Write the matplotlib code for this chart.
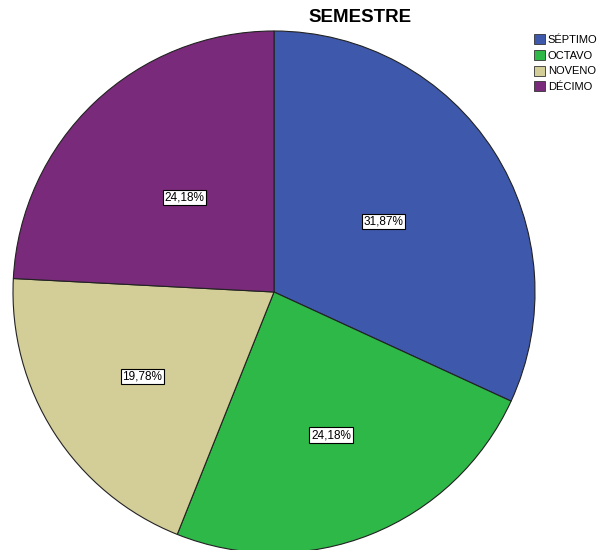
import matplotlib
matplotlib.use("Agg")
import numpy as np
import matplotlib.pyplot as plt
from matplotlib.patches import Patch

categories = ["SÉPTIMO", "OCTAVO", "NOVENO", "DÉCIMO"]
percentages = [31.87, 24.18, 19.78, 24.18]
colors = ["#3E58AC", "#2EB848", "#D3CE97", "#7A2A7A"]
label_dist = [0.5, 0.59, 0.6, 0.5]  # label distance from centre, fraction of radius

W, H = 603, 550
CX, CY, R = 274, H - 292, 261
FONT = "Liberation Sans"

fig = plt.figure(figsize=(W / 100, H / 100), dpi=100)
ax = fig.add_axes([0, 0, 1, 1])

wedges, _ = ax.pie(
    percentages,
    colors=colors,
    startangle=90,
    counterclock=False,
    center=(CX, CY),
    radius=R,
    wedgeprops=dict(edgecolor="#222222", linewidth=0.8),
    frame=True,
)
ax.set_xlim(0, W)
ax.set_ylim(0, H)
ax.set_aspect("equal")
ax.axis("off")

# percentage labels in boxes
for w, p, d in zip(wedges, percentages, label_dist):
    ang = np.deg2rad((w.theta1 + w.theta2) / 2)
    x = CX + d * R * np.cos(ang)
    y = CY + d * R * np.sin(ang)
    ax.text(x, y, f"{p:.2f}%".replace(".", ","), ha="center", va="center",
            fontsize=8.5, family=FONT,
            bbox=dict(facecolor="white", edgecolor="black", linewidth=0.8, pad=1.2))

fig.text(360 / W, 1 - 17 / H, "SEMESTRE", ha="center", va="center",
         fontsize=13.5, fontweight="bold", family=FONT)

handles = [Patch(facecolor=c, edgecolor="#333333", linewidth=0.6) for c in colors]
fig.legend(handles, categories, loc="upper left", bbox_to_anchor=(534 / W, 1 - 34 / H),
           frameon=False, handlelength=1.0, handleheight=1.0,
           handletextpad=0.25, labelspacing=0.45, borderpad=0, borderaxespad=0,
           prop=dict(family=FONT, size=8))

fig.savefig("out.png", dpi=100)
